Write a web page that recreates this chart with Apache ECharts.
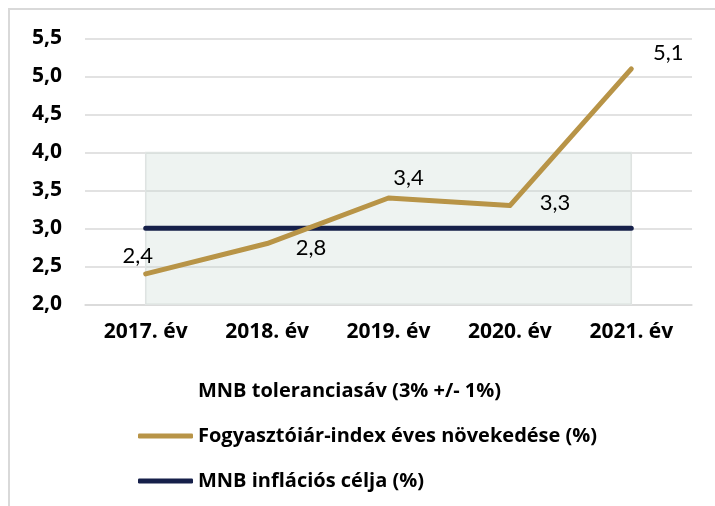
<!DOCTYPE html>
<html>
<head>
<meta charset="utf-8">
<script src="https://cdn.jsdelivr.net/npm/echarts@6/dist/echarts.min.js"></script>
<style>
  html, body { margin: 0; padding: 0; background: #fff; }
  .frame {
    position: absolute; left: 8px; top: 8px; width: 800px; height: 600px;
    border: 2px solid #d9d9d9; box-sizing: border-box;
  }
  #chart { position: absolute; left: 0; top: 0; width: 715px; height: 506px; }
</style>
</head>
<body>
<div class="frame"></div>
<div id="chart"></div>
<script>
// categories and values
const years = ["2017. év", "2018. év", "2019. év", "2020. év", "2021. év"];
const cpi = [2.4, 2.8, 3.4, 3.3, 5.1];
const target = [3, 3, 3, 3, 3];
const bandLow = [2, 2, 2, 2, 2];
const bandHigh = [4, 4, 4, 4, 4];

const bandName = "MNB toleranciasáv (3% +/- 1%)";
const cpiName = "Fogyasztóiár-index éves növekedése (%)";
const targetName = "MNB inflációs célja (%)";

const GOLD = "#b89447";
const NAVY = "#16204a";
const FONT = "Lato";
const BOLD_FONT = "Open Sans";

// label offsets per point (relative to the default "top" spot)
const labelOffsets = [[-8, -1], [44, 21], [20, -3], [45, 14], [37, 1]];

const fmt = (v) => v.toFixed(1).replace(".", ",");

const chart = echarts.init(document.getElementById("chart"));
chart.setOption({
  animation: false,
  grid: { left: 85, right: 23, top: 38.5, bottom: 201.7 },
  legend: {
    orient: "vertical",
    left: 133,
    top: 375,
    itemWidth: 55,
    itemHeight: 5,
    itemGap: 23,
    selectedMode: false,
    textStyle: { fontFamily: BOLD_FONT, fontWeight: "bold", fontSize: 20, color: "#000", lineHeight: 22 },
    data: [
      { name: bandName, icon: "rect", itemStyle: { color: "transparent" } },
      { name: cpiName, icon: "roundRect" },
      { name: targetName, icon: "roundRect" }
    ]
  },
  xAxis: {
    type: "category",
    data: years,
    boundaryGap: true,
    axisTick: { show: false },
    axisLine: { lineStyle: { color: "#d9d9d9", width: 1.5 } },
    axisLabel: { fontFamily: BOLD_FONT, fontWeight: "bold", fontSize: 21, color: "#000", margin: 17 }
  },
  yAxis: {
    type: "value",
    min: 2,
    max: 5.5,
    interval: 0.5,
    axisLine: { show: false },
    axisTick: { show: false },
    splitLine: { lineStyle: { color: "#d9d9d9", width: 1.5 } },
    axisLabel: {
      fontFamily: BOLD_FONT, fontWeight: "bold", fontSize: 21, color: "#000", margin: 23,
      formatter: fmt
    }
  },
  series: [
    {
      name: "base",
      type: "line",
      stack: "band",
      data: bandLow,
      symbol: "none",
      lineStyle: { width: 0 },
      silent: true
    },
    {
      name: bandName,
      type: "line",
      stack: "band",
      data: bandHigh.map((h, i) => h - bandLow[i]),
      symbol: "none",
      lineStyle: { width: 0 },
      itemStyle: { color: "#eef2f0" },
      areaStyle: { color: "rgba(200,214,208,0.3)", opacity: 1 },
      markArea: {
        silent: true,
        itemStyle: { color: "transparent", borderColor: "#e2e5e4", borderWidth: 1.5 },
        data: [[{ xAxis: years[0], yAxis: bandLow[0] }, { xAxis: years[years.length - 1], yAxis: bandHigh[0] }]]
      },
      silent: true
    },
    {
      name: targetName,
      type: "line",
      data: target,
      symbol: "none",
      itemStyle: { color: NAVY },
      lineStyle: { color: NAVY, width: 5, cap: "round" }
    },
    {
      name: cpiName,
      type: "line",
      data: cpi.map((v, i) => ({
        value: v,
        label: { offset: labelOffsets[i] }
      })),
      symbol: "circle",
      symbolSize: 2,
      showSymbol: true,
      z: 5,
      itemStyle: { color: GOLD },
      lineStyle: { color: GOLD, width: 5, cap: "round", join: "round" },
      label: {
        show: true,
        position: "top",
        fontFamily: FONT,
        fontSize: 22,
        color: "#000",
        formatter: (p) => fmt(p.value)
      }
    }
  ]
});
</script>
</body>
</html>
